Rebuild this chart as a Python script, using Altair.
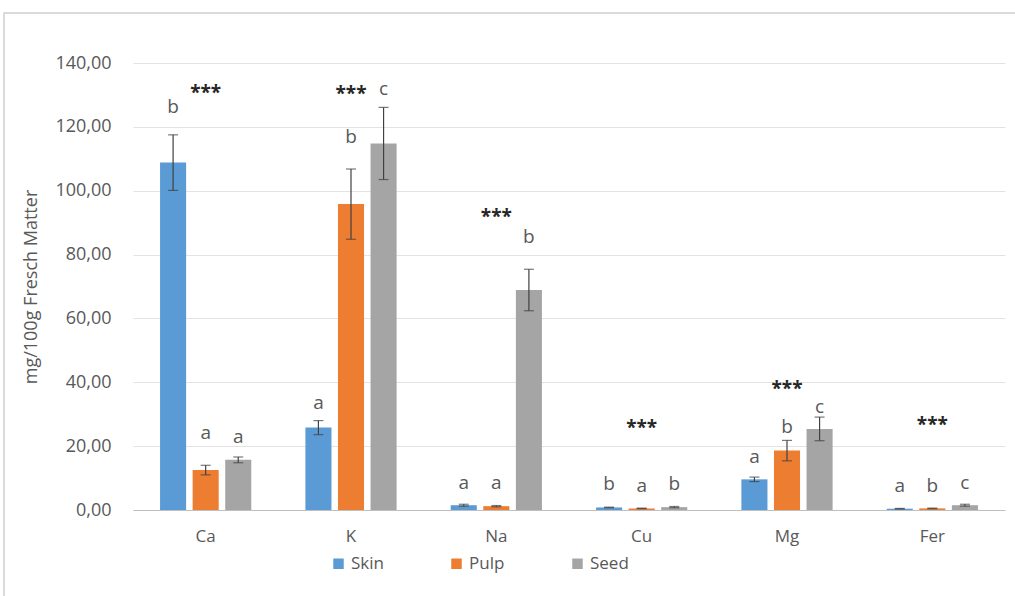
import altair as alt
import pandas as pd

# Mineral content per tissue (mg/100 g fresh matter)
minerals = ["Ca", "K", "Na", "Cu", "Mg", "Fer"]
tissues = ["Skin", "Pulp", "Seed"]

skin_mean = [108.8, 25.8, 1.5, 0.8, 9.6, 0.4]
pulp_mean = [12.5, 95.8, 1.2, 0.5, 18.6, 0.5]
seed_mean = [15.7, 114.8, 68.9, 0.9, 25.4, 1.5]

skin_sd = [8.7, 2.2, 0.3, 0.1, 0.7, 0.1]
pulp_sd = [1.5, 11.0, 0.2, 0.1, 3.2, 0.1]
seed_sd = [0.9, 11.3, 6.5, 0.2, 3.7, 0.3]

# Post-hoc group letters and the height at which each is written
skin_letter = ["b", "a", "a", "b", "a", "a"]
pulp_letter = ["a", "b", "a", "a", "b", "b"]
seed_letter = ["a", "c", "b", "b", "c", "c"]
skin_letter_y = [126.3, 33.4, 8.6, 8.1, 16.7, 7.5]
pulp_letter_y = [24.1, 116.9, 8.6, 7.5, 26.1, 7.5]
seed_letter_y = [22.9, 131.8, 85.6, 8.1, 32.4, 8.6]

# Significance marks (ANOVA, p < 0.001) per mineral
signif = ["***"] * 6
signif_y = [130.7, 130.2, 91.8, 25.6, 37.8, 26.7]

colors = ["#5B9BD5", "#ED7D31", "#A5A5A5"]
y_ticks = [0, 20, 40, 60, 80, 100, 120, 140]

rows = []
for t, means, sds, letters, ly in [
    ("Skin", skin_mean, skin_sd, skin_letter, skin_letter_y),
    ("Pulp", pulp_mean, pulp_sd, pulp_letter, pulp_letter_y),
    ("Seed", seed_mean, seed_sd, seed_letter, seed_letter_y),
]:
    for m, v, s, l, yy in zip(minerals, means, sds, letters, ly):
        rows.append({"mineral": m, "tissue": t, "mean": v,
                     "lo": v - s, "hi": v + s, "letter": l, "ly": yy})
df = pd.DataFrame(rows)
sig_df = pd.DataFrame({"mineral": minerals, "sig": signif, "y": signif_y})

W, H = 872, 447
FONT = "Open Sans"
GREY = "#595959"

x_enc = alt.X("mineral:N", sort=minerals, title=None,
              scale=alt.Scale(paddingInner=0.35, paddingOuter=0.175),
              axis=alt.Axis(labelAngle=0, ticks=False, domainColor="#BFBFBF",
                            labelFont=FONT, labelFontSize=17, labelColor=GREY,
                            labelPadding=18))
x_off = alt.XOffset("tissue:N", sort=tissues,
                    scale=alt.Scale(paddingInner=0.2, paddingOuter=0.05))
y_scale = alt.Scale(domain=[0, 140], nice=False)

base = alt.Chart(df)

bars = base.mark_bar().encode(
    x=x_enc,
    xOffset=x_off,
    y=alt.Y("mean:Q", scale=y_scale, title="mg/100g Fresch Matter",
            axis=alt.Axis(values=y_ticks, ticks=False, domain=False,
                          gridColor="#E3E3E3",
                          labelExpr="replace(format(datum.value, '.2f'), '.', ',')",
                          labelFont=FONT, labelFontSize=18, labelColor=GREY,
                          labelPadding=22,
                          titleFont=FONT, titleFontSize=18, titleColor=GREY,
                          titleFontWeight="normal", titlePadding=14)),
    color=alt.Color("tissue:N", sort=tissues,
                    scale=alt.Scale(domain=tissues, range=colors),
                    legend=alt.Legend(title=None, orient="none",
                                      direction="horizontal",
                                      legendX=197, legendY=492,
                                      symbolType="square", symbolSize=110,
                                      symbolStrokeWidth=0, labelFont=FONT,
                                      labelFontSize=17, labelColor=GREY,
                                      labelOffset=4, columnPadding=64)),
)

whisk = base.mark_rule(color="#404040", strokeWidth=1.2).encode(
    x=alt.X("mineral:N", sort=minerals), xOffset=x_off,
    y=alt.Y("lo:Q", scale=y_scale), y2="hi:Q",
)
cap_hi = base.mark_tick(color="#404040", thickness=1.2, size=10).encode(
    x=alt.X("mineral:N", sort=minerals), xOffset=x_off,
    y=alt.Y("hi:Q", scale=y_scale),
)
cap_lo = base.mark_tick(color="#404040", thickness=1.2, size=10).encode(
    x=alt.X("mineral:N", sort=minerals), xOffset=x_off,
    y=alt.Y("lo:Q", scale=y_scale),
)
letters = base.mark_text(font=FONT, fontSize=19, color=GREY,
                         baseline="middle").encode(
    x=alt.X("mineral:N", sort=minerals), xOffset=x_off,
    y=alt.Y("ly:Q", scale=y_scale),
    text="letter:N",
)
stars = alt.Chart(sig_df).mark_text(font=FONT, fontSize=19, fontWeight="bold",
                                    color="#262626", baseline="middle").encode(
    x=alt.X("mineral:N", sort=minerals),
    y=alt.Y("y:Q", scale=y_scale),
    text="sig:N",
)

# Light frame around the whole figure
frame = alt.Chart(sig_df.head(1)).mark_rect(
    fill=None, stroke="#D0D0D0", strokeWidth=1.5, clip=False
).encode(
    x=alt.value(-129), x2=alt.value(W + 40),
    y=alt.value(-50), y2=alt.value(H + 120),
)

chart = alt.layer(frame, bars, whisk, cap_hi, cap_lo, letters, stars).properties(
    width=W, height=H,
    autosize=alt.AutoSizeParams(type="none"),
    padding={"left": 133, "top": 63, "right": 10, "bottom": 86},
    background="white",
).configure_view(stroke=None)

chart.save("out.html", embed_options={"renderer": "svg", "actions": False})
